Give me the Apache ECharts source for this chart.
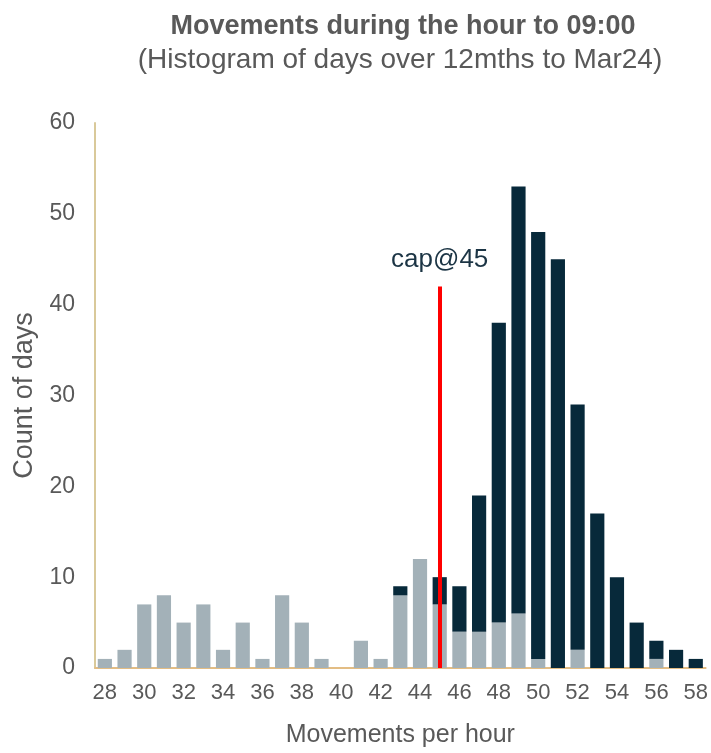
<!DOCTYPE html>
<html><head><meta charset="utf-8">
<script src="https://cdn.jsdelivr.net/npm/echarts@6/dist/echarts.min.js"></script>
<style>html,body{margin:0;padding:0;background:#fff}#c{width:711px;height:753px}</style>
</head><body><div id="c"></div>
<script>
const categories = ['28','29','30','31','32','33','34','35','36','37','38','39','40','41','42','43','44','45','46','47','48','49','50','51','52','53','54','55','56','57','58'];
const lightValues = [1,2,7,8,5,7,2,5,1,8,5,1,0,3,1,8,12,7,4,4,5,6,1,0,2,0,0,0,1,0,0];
const darkValues  = [0,0,0,0,0,0,0,0,0,0,0,0,0,0,0,1,0,3,5,15,33,47,47,45,27,17,10,5,2,2,1];
const capCategory = '45';
const capHeight = 42;
const capLabel = 'cap@45';
const yTicks = {min:0, max:60, interval:10};

const font = 'Liberation Sans, Arial, sans-serif';
const chart = echarts.init(document.getElementById('c'));
chart.setOption({
  animation:false,
  backgroundColor:'#fff',
  title:[
    {text:'Movements during the hour to 09:00', left:398, top:8, textAlign:'center',
     textStyle:{fontFamily:font, fontSize:27, fontWeight:'bold', color:'#595959'}},
    {text:'(Histogram of days over 12mths to Mar24)', left:395, top:41, textAlign:'center',
     textStyle:{fontFamily:font, fontSize:28, fontWeight:'normal', color:'#595959'}}
  ],
  grid:{left:95, right:5, top:123, bottom:69},
  xAxis:{type:'category', data:categories,
    axisLine:{lineStyle:{color:'#e3bd84', width:2}}, axisTick:{show:false},
    axisLabel:{interval:1, fontFamily:font, fontSize:22, color:'#595959', margin:14},
    name:'Movements per hour', nameLocation:'middle', nameGap:55,
    nameTextStyle:{fontFamily:font, fontSize:25, color:'#595959'}},
  yAxis:{type:'value', min:yTicks.min, max:yTicks.max, interval:yTicks.interval,
    axisLine:{show:true, lineStyle:{color:'#d9c99a', width:2}}, axisTick:{show:false},
    splitLine:{show:false},
    axisLabel:{fontFamily:font, fontSize:23, color:'#595959', margin:20},
    name:'Count of days', nameLocation:'middle', nameGap:46,
    nameTextStyle:{fontFamily:font, fontSize:27, color:'#595959'}},
  series:[
    {type:'bar', stack:'a', data:lightValues, barCategoryGap:'28%',
     itemStyle:{color:'#a3b1b8'}},
    {type:'bar', stack:'a', data:darkValues,
     itemStyle:{color:'#07293a'},
     markLine:{symbol:'none', silent:true,
       lineStyle:{color:'#ff0000', width:4, type:'solid'},
       label:{show:true, position:'end', formatter:capLabel, fontFamily:font, fontSize:26, color:'#1b3444', distance:14},
       data:[[{coord:[capCategory,0]},{coord:[capCategory,capHeight]}]]}}
  ]
});
</script></body></html>
